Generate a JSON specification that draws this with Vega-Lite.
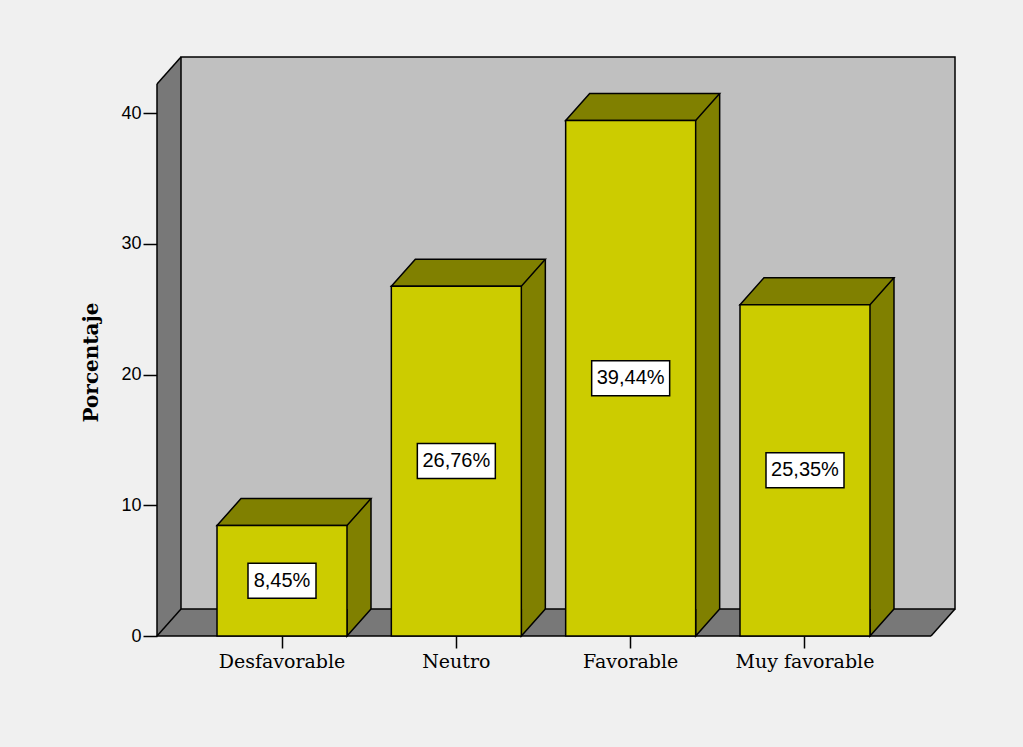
{
  "$schema": "https://vega.github.io/schema/vega-lite/v6.json",
  "width": 798,
  "height": 579,
  "autosize": {"type": "none"},
  "padding": {"left": 157, "top": 57, "right": 68, "bottom": 111},
  "background": "#f0f0f0",
  "config": {"view": {"stroke": null}},
  "data": {
    "values": [
      {"categoria": "Desfavorable", "porcentaje": 8.45, "etiqueta": "8,45%"},
      {"categoria": "Neutro", "porcentaje": 26.76, "etiqueta": "26,76%"},
      {"categoria": "Favorable", "porcentaje": 39.44, "etiqueta": "39,44%"},
      {"categoria": "Muy favorable", "porcentaje": 25.35, "etiqueta": "25,35%"}
    ]
  },
  "layer": [
    {
      "data": {"values": [{}]},
      "layer": [
        {
          "mark": {"type": "rect", "fill": "#787878", "strokeWidth": 0, "x2Offset": 24},
          "encoding": {
            "x": {"datum": 0, "type": "quantitative", "scale": {"domain": [0, 1], "nice": false, "zero": false}, "axis": null},
            "x2": {"datum": 0},
            "y": {"datum": 44.3, "type": "quantitative", "scale": {"domain": [0, 44.3], "nice": false, "zero": true}, "axis": null},
            "y2": {"datum": 0}
          }
        },
        {
          "mark": {"type": "rect", "fill": "#787878", "strokeWidth": 0, "yOffset": -27},
          "encoding": {
            "x": {"datum": 0, "type": "quantitative", "scale": {"domain": [0, 1], "nice": false, "zero": false}, "axis": null},
            "x2": {"datum": 1},
            "y": {"datum": 0, "type": "quantitative", "scale": {"domain": [0, 44.3], "nice": false, "zero": true}, "axis": null},
            "y2": {"datum": 0}
          }
        },
        {
          "mark": {"type": "point", "shape": "M0,0 L24,0 L0,27 Z", "size": 4, "filled": true, "fill": "#f0f0f0", "strokeWidth": 0, "opacity": 1},
          "encoding": {
            "x": {"datum": 0, "type": "quantitative", "scale": {"domain": [0, 1], "nice": false, "zero": false}, "axis": null},
            "y": {"datum": 44.3, "type": "quantitative", "scale": {"domain": [0, 44.3], "nice": false, "zero": true}, "axis": null}
          }
        },
        {
          "mark": {"type": "point", "shape": "M0,0 L-24,0 L0,-27 Z", "size": 4, "filled": true, "fill": "#f0f0f0", "strokeWidth": 0, "opacity": 1},
          "encoding": {
            "x": {"datum": 1, "type": "quantitative", "scale": {"domain": [0, 1], "nice": false, "zero": false}, "axis": null},
            "y": {"datum": 0, "type": "quantitative", "scale": {"domain": [0, 44.3], "nice": false, "zero": true}, "axis": null}
          }
        },
        {
          "mark": {"type": "rect", "fill": "#c0c0c0", "stroke": "#000000", "strokeWidth": 1.5, "xOffset": 24, "y2Offset": -27},
          "encoding": {
            "x": {"datum": 0, "type": "quantitative", "scale": {"domain": [0, 1], "nice": false, "zero": false}, "axis": null},
            "x2": {"datum": 1},
            "y": {"datum": 44.3, "type": "quantitative", "scale": {"domain": [0, 44.3], "nice": false, "zero": true}, "axis": null},
            "y2": {"datum": 0}
          }
        },
        {
          "mark": {"type": "rule", "stroke": "#000000", "strokeWidth": 1.5, "yOffset": 27},
          "encoding": {
            "x": {"datum": 0, "type": "quantitative", "scale": {"domain": [0, 1], "nice": false, "zero": false}, "axis": null},
            "y": {"datum": 44.3, "type": "quantitative", "scale": {"domain": [0, 44.3], "nice": false, "zero": true}, "axis": null},
            "y2": {"datum": 0}
          }
        },
        {
          "mark": {"type": "rule", "stroke": "#000000", "strokeWidth": 1.5, "yOffset": 27, "x2Offset": 24},
          "encoding": {
            "x": {"datum": 0, "type": "quantitative", "scale": {"domain": [0, 1], "nice": false, "zero": false}, "axis": null},
            "x2": {"datum": 0},
            "y": {"datum": 44.3, "type": "quantitative", "scale": {"domain": [0, 44.3], "nice": false, "zero": true}, "axis": null},
            "y2": {"datum": 44.3}
          }
        },
        {
          "mark": {"type": "rule", "stroke": "#000000", "strokeWidth": 1.5, "x2Offset": 24, "y2Offset": -27},
          "encoding": {
            "x": {"datum": 0, "type": "quantitative", "scale": {"domain": [0, 1], "nice": false, "zero": false}, "axis": null},
            "x2": {"datum": 0},
            "y": {"datum": 0, "type": "quantitative", "scale": {"domain": [0, 44.3], "nice": false, "zero": true}, "axis": null},
            "y2": {"datum": 0}
          }
        },
        {
          "mark": {"type": "rule", "stroke": "#000000", "strokeWidth": 1.5, "x2Offset": -24},
          "encoding": {
            "x": {"datum": 0, "type": "quantitative", "scale": {"domain": [0, 1], "nice": false, "zero": false}, "axis": null},
            "x2": {"datum": 1},
            "y": {"datum": 0, "type": "quantitative", "scale": {"domain": [0, 44.3], "nice": false, "zero": true}, "axis": null}
          }
        },
        {
          "mark": {"type": "rule", "stroke": "#000000", "strokeWidth": 1.5, "xOffset": -24, "y2Offset": -27},
          "encoding": {
            "x": {"datum": 1, "type": "quantitative", "scale": {"domain": [0, 1], "nice": false, "zero": false}, "axis": null},
            "x2": {"datum": 1},
            "y": {"datum": 0, "type": "quantitative", "scale": {"domain": [0, 44.3], "nice": false, "zero": true}, "axis": null},
            "y2": {"datum": 0}
          }
        }
      ]
    },
    {
      "encoding": {
        "x": {
          "field": "categoria", "type": "nominal", "sort": null,
          "scale": {"type": "band", "domain": ["Desfavorable", "Neutro", "Favorable", "Muy favorable"], "paddingInner": 0.2543, "paddingOuter": 0.4159, "align": 0.4138},
          "axis": {"title": null, "domain": false, "ticks": true, "tickColor": "#000000", "tickSize": 12, "tickWidth": 1.5, "labelAngle": 0, "labelFont": "DejaVu Serif", "labelFontSize": 19, "labelColor": "#000000", "labelPadding": 4}
        },
        "y": {
          "field": "porcentaje", "type": "quantitative",
          "scale": {"domain": [0, 44.3], "nice": false, "zero": true},
          "axis": {"title": "Porcentaje", "values": [0, 10, 20, 30, 40], "domain": false, "grid": false, "tickColor": "#000000", "tickSize": 14, "tickWidth": 1.5, "labelFont": "Liberation Sans", "labelFontSize": 18, "labelColor": "#000000", "labelPadding": 2, "titleFont": "DejaVu Serif", "titleFontWeight": "bold", "titleFontSize": 20, "titleColor": "#000000", "titleX": -56, "titleY": 305, "titleAlign": "center", "titleBaseline": "bottom", "titleAngle": -90}
        }
      },
      "layer": [
        {
          "mark": {"type": "bar", "fill": "#808000", "strokeWidth": 0, "xOffset": 24, "x2Offset": 24, "yOffset": -27, "y2Offset": -27}
        },
        {
          "mark": {"type": "point", "shape": "M65,-27 L65,0 L89,-27", "size": 4, "filled": false, "fill": "#808000", "fillOpacity": 1, "stroke": "#000000", "strokeWidth": 1.5, "opacity": 1},
          "encoding": {
            "y": {"datum": 0, "type": "quantitative", "scale": {"domain": [0, 44.3], "nice": false, "zero": true},
              "axis": {"title": "Porcentaje", "values": [0, 10, 20, 30, 40], "domain": false, "grid": false, "tickColor": "#000000", "tickSize": 14, "tickWidth": 1.5, "labelFont": "Liberation Sans", "labelFontSize": 18, "labelColor": "#000000", "labelPadding": 2, "titleFont": "DejaVu Serif", "titleFontWeight": "bold", "titleFontSize": 20, "titleColor": "#000000", "titleX": -56, "titleY": 305, "titleAlign": "center", "titleBaseline": "bottom", "titleAngle": -90}}
          }
        },
        {
          "mark": {"type": "point", "shape": "M-65,0 L65,0 L89,-27 L-41,-27 Z", "size": 4, "filled": true, "fill": "#808000", "stroke": "#000000", "strokeWidth": 1.5, "opacity": 1}
        },
        {
          "mark": {"type": "bar", "fill": "#cccc00", "stroke": "#000000", "strokeWidth": 1.5}
        },
        {
          "mark": {"type": "rule", "stroke": "#000000", "strokeWidth": 1.5, "xOffset": 89, "yOffset": -27, "y2Offset": -27},
          "encoding": {
            "y2": {"datum": 0}
          }
        }
      ]
    },
    {
      "encoding": {
        "x": {
          "field": "categoria", "type": "nominal", "sort": null,
          "scale": {"type": "band", "domain": ["Desfavorable", "Neutro", "Favorable", "Muy favorable"], "paddingInner": 0.2543, "paddingOuter": 0.4159, "align": 0.4138},
          "axis": null
        },
        "y": {
          "field": "porcentaje", "type": "quantitative",
          "scale": {"domain": [0, 88.6], "nice": false, "zero": true},
          "axis": null
        }
      },
      "layer": [
        {
          "mark": {"type": "point", "size": 4, "filled": true, "fill": "#ffffff", "stroke": "#000000", "strokeWidth": 1.5, "opacity": 1},
          "encoding": {
            "shape": {
              "field": "etiqueta", "type": "nominal", "legend": null,
              "scale": {"domain": ["8,45%", "26,76%", "39,44%", "25,35%"], "range": ["M-34,-17.5 L34,-17.5 L34,17.5 L-34,17.5 Z", "M-39,-17.5 L39,-17.5 L39,17.5 L-39,17.5 Z", "M-39,-17.5 L39,-17.5 L39,17.5 L-39,17.5 Z", "M-39,-17.5 L39,-17.5 L39,17.5 L-39,17.5 Z"]}
            }
          }
        },
        {
          "mark": {"type": "text", "font": "Liberation Sans", "fontSize": 20, "color": "#000000", "align": "center", "baseline": "middle"},
          "encoding": {
            "text": {"field": "etiqueta", "type": "nominal"}
          }
        }
      ]
    }
  ],
  "resolve": {"scale": {"x": "independent", "y": "independent"}, "axis": {"x": "independent", "y": "independent"}}
}
